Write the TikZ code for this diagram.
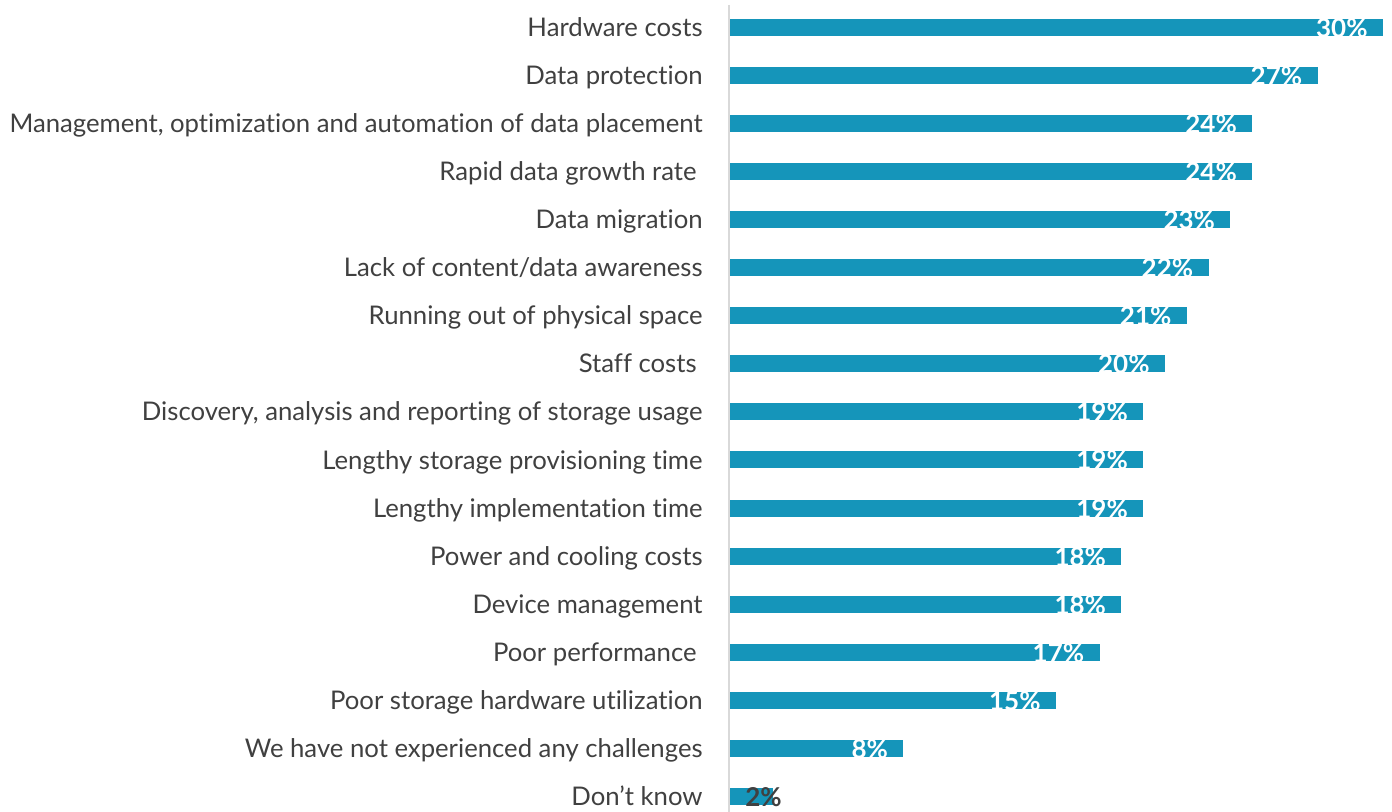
\documentclass[tikz,border=0pt]{standalone}
\usepackage{fontspec}
\setmainfont{Lato}[Ligatures=NoCommon]
\usetikzlibrary{positioning}

\definecolor{barblue}{HTML}{1595BA}
\definecolor{labelgray}{HTML}{404040}
\definecolor{axisgray}{HTML}{D9D9D9}

\begin{document}
\begin{tikzpicture}[x=0.5pt, y=-0.5pt,
    bar/.style={fill=barblue},
    catlabel/.style={anchor=base east, inner sep=0pt, text=labelgray, font=\fontsize{12.85}{15}\selectfont},
    vallabel/.style={anchor=base east, inner sep=0pt, text=white, font=\fontsize{13}{15}\selectfont\bfseries}
  ]

\useasboundingbox (0,0) rectangle (1392,812);

% axis line
\draw[axisgray, line width=1pt] (729,5) -- (729,812);

% bars, categories and values
\foreach \name/\val [count=\i from 0] in {Hardware costs/30, Data protection/27,
    {Management, optimization and automation of data placement}/24,
    Rapid data growth rate\kern3pt/24, Data migration/23,
    {Lack of content/data awareness}/22, Running out of physical space/21,
    Staff costs\kern3pt/20, {Discovery, analysis and reporting of storage usage}/19,
    Lengthy storage provisioning time/19, Lengthy implementation time/19,
    Power and cooling costs/18, Device management/18, Poor performance\kern3pt/17,
    Poor storage hardware utilization/15,
    We have not experienced any challenges/8, Don’t know/2} {
  \pgfmathsetmacro{\yc}{28+48*\i}
  \pgfmathsetmacro{\xe}{729+21.8*\val}
  \fill[bar] (730,\yc-8.5) rectangle (\xe,\yc+8.5);
  \node[catlabel] (cat\i) at (703,\yc+9) {\name};
  \ifnum\val<5
    \node[vallabel, anchor=base west, text=labelgray] (val\i) at (745,\yc+10) {\val\%};
  \else
    \node[vallabel] (val\i) at (\xe-15,\yc+10) {\val\%};
  \fi
}

\end{tikzpicture}
\end{document}
